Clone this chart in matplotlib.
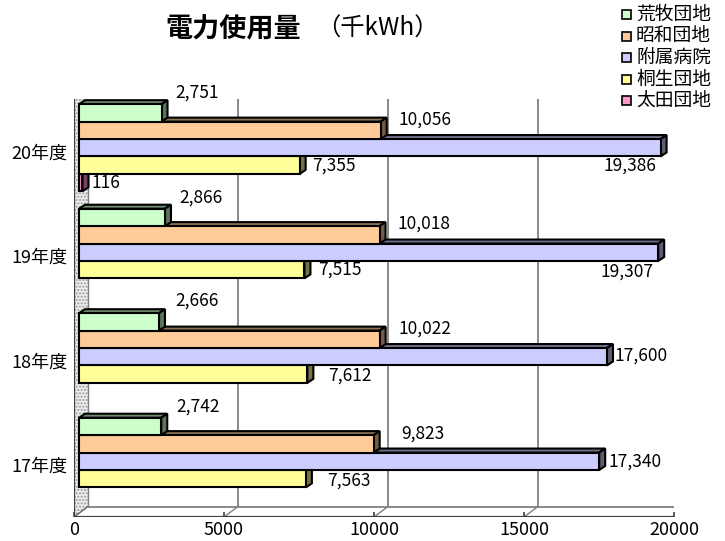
import numpy as np
import matplotlib
matplotlib.use("Agg")
import matplotlib.pyplot as plt
from matplotlib.patches import Polygon, Rectangle
from matplotlib.transforms import IdentityTransform
from matplotlib.colors import to_rgb

plt.rcParams['font.family'] = ['Noto Sans CJK JP', 'DejaVu Sans']

# ---------------- data ----------------
years = ['17年度', '18年度', '19年度', '20年度']
series_names = ['荒牧団地', '昭和団地', '附属病院', '桐生団地', '太田団地']
aramaki = [2742, 2666, 2866, 2751]
showa = [9823, 10022, 10018, 10056]
fuzoku = [17340, 17600, 19307, 19386]
kiryu = [7563, 7612, 7515, 7355]
ota = [0, 0, 0, 116]
series_values = [aramaki, showa, fuzoku, kiryu, ota]
colors = ['#CCFFCC', '#FFCC99', '#CCCCFF', '#FFFF99', '#FF99CC']
xticks = [0, 5000, 10000, 15000, 20000]
xticklabels = ['0', '5000', '10000', '15000', '20000']
title_main = '電力使用量'
title_unit = '（千kWh）'

# label offsets in pixels (dx right, dy down) from bar end / bar centre; per series, per year
label_offsets = [
    [(15, -20), (16, -21), (14, -20), (14, -20)],
    [(28, -10), (19, -11), (18, -11), (18, -11)],
    [(9, 0), (8, -1), (-5, 19), (-4, 18)],
    [(21, 2), (21, 1), (14, 0), (12, 0)],
    [(9, 0), (9, 0), (9, 0), (9, 0)],
]
label_align = ['left', 'left', ['left', 'left', 'right', 'right'], 'left', 'left']

W, H = 725, 541
fig = plt.figure(figsize=(W / 100, H / 100), dpi=100)
# axes = front plane of the 3D box
ax_left, ax_right, ax_bottom, ax_top = 74, 674, 517, 99
ax = fig.add_axes([ax_left / W, (H - ax_bottom) / H, (ax_right - ax_left) / W, (ax_bottom - ax_top) / H])
ax.set_xlim(0, 20000)
ax.set_ylim(-0.5, 3.5)
for sp in ax.spines.values():
    sp.set_visible(False)
ax.set_facecolor('none')
ax.set_xticks(xticks)
ax.set_xticklabels(xticklabels, fontsize=13)
ax.set_yticks(range(len(years)))
ax.set_yticklabels(years, fontsize=13)
ax.tick_params(axis='x', direction='in', length=3.5, width=1.2, color='#404040', pad=3)
ax.tick_params(axis='y', length=0, pad=5)

ID = IdentityTransform()

def P(x, y, ox=0.0, oy=0.0):
    d = ax.transData.transform((x, y))
    return (d[0] + ox, d[1] + oy)

BACK = (14, 10.5)
BAR = (5, 3.5)
DEPTH = (6, 4)
ytop_wall = 3.53
ybot = -0.5

# left wall (dotted)
lw_poly = [P(0, ybot), P(0, ybot, *BACK), P(0, ytop_wall, *BACK), P(0, ytop_wall)]
ax.add_patch(Polygon(lw_poly, closed=True, transform=ID, facecolor='#EEEEEE',
                     edgecolor='#999999', hatch='.....', linewidth=0, zorder=1))
# floor
fl_poly = [P(0, ybot), P(20000, ybot), P(20000, ybot, *BACK), P(0, ybot, *BACK)]
ax.add_patch(Polygon(fl_poly, closed=True, transform=ID, facecolor='white', edgecolor='none', zorder=1))

def line(pts, color, lw, z=2):
    xs = [p[0] for p in pts]
    ys = [p[1] for p in pts]
    ax.add_line(plt.Line2D(xs, ys, transform=ID, color=color, linewidth=lw, zorder=z,
                           solid_capstyle='butt'))

grid_c = '#808080'
for xv in xticks[1:]:
    line([P(xv, ybot, *BACK), P(xv, ytop_wall, *BACK)], grid_c, 1.3)
    line([P(xv, ybot), P(xv, ybot, *BACK)], grid_c, 1.0)
line([P(0, ytop_wall, *BACK), P(20000, ytop_wall, *BACK)], grid_c, 1.3)
line([P(0, ybot, *BACK), P(20000, ybot, *BACK)], grid_c, 1.3)
line([P(0, ybot, *BACK), P(0, ytop_wall, *BACK)], grid_c, 1.0)
line([P(0, ytop_wall), P(0, ytop_wall, *BACK)], grid_c, 1.0)
line([P(0, ybot), P(0, ybot, *BACK)], '#606060', 1.0)
# front edges
line([P(0, ybot), P(20000, ybot)], '#404040', 1.6, 3)
line([P(0, ybot), P(0, ytop_wall)], '#404040', 1.6, 3)

# bars
n = len(series_values)
bh = 1.0 / 6
edge_lw = 1.5

def shade(c, f):
    r, g, b = to_rgb(c)
    return (r * f, g * f, b * f)

z = 5
for k in range(len(years)):
    for s in range(n - 1, -1, -1):
        v = series_values[s][k]
        if v <= 0:
            continue
        yt = k + 5 / 12 - s * bh
        yb = yt - bh
        c = colors[s]
        front = [P(0, yb, *BAR), P(v, yb, *BAR), P(v, yt, *BAR), P(0, yt, *BAR)]
        dx, dy = DEPTH
        top = [P(0, yt, *BAR), P(v, yt, *BAR), P(v, yt, BAR[0] + dx, BAR[1] + dy), P(0, yt, BAR[0] + dx, BAR[1] + dy)]
        side = [P(v, yb, *BAR), P(v, yb, BAR[0] + dx, BAR[1] + dy), P(v, yt, BAR[0] + dx, BAR[1] + dy), P(v, yt, *BAR)]
        ax.add_patch(Polygon(top, closed=True, transform=ID, facecolor=shade(c, 0.55), edgecolor='black',
                             linewidth=edge_lw, joinstyle='miter', zorder=z))
        ax.add_patch(Polygon(side, closed=True, transform=ID, facecolor=shade(c, 0.45), edgecolor='black',
                             linewidth=edge_lw, joinstyle='miter', zorder=z))
        ax.add_patch(Polygon(front, closed=True, transform=ID, facecolor=c, edgecolor='black',
                             linewidth=edge_lw, joinstyle='miter', zorder=z + 0.5))
        z += 1

# labels
for s in range(n):
    for k in range(len(years)):
        v = series_values[s][k]
        if v <= 0:
            continue
        yc = k + 5 / 12 - s * bh - bh / 2
        ox, oy = label_offsets[s][k]
        al = label_align[s]
        ha = al[k] if isinstance(al, list) else al
        px, py = P(v, yc, *BAR)
        ax.text(px + ox, py - oy, f'{v:,}', transform=ID, ha=ha, va='center',
                fontsize=12.5, zorder=100)

# title
fig.text(165 / W, 1 - 29 / H, title_main, fontsize=19.5, fontweight='bold', ha='left', va='center')
fig.text(316 / W, 1 - 29 / H, title_unit, fontsize=17.5, ha='left', va='center')

# legend
fig.patches.append(Rectangle((613 / W, 1 - 112 / H), 112 / W, 112 / H, transform=fig.transFigure,
                             facecolor='white', edgecolor='none', zorder=50))
for i, (name, c) in enumerate(zip(series_names, colors)):
    yc = 14.5 + 21.5 * i
    fig.patches.append(Rectangle((622 / W, 1 - (yc + 4.5) / H), 9 / W, 9 / H, transform=fig.transFigure,
                                 facecolor=c, edgecolor='black', linewidth=1.2, zorder=51))
    fig.text(636 / W, 1 - yc / H, name, fontsize=13.5, ha='left', va='center', zorder=52)

fig.savefig('out.png', dpi=100)
